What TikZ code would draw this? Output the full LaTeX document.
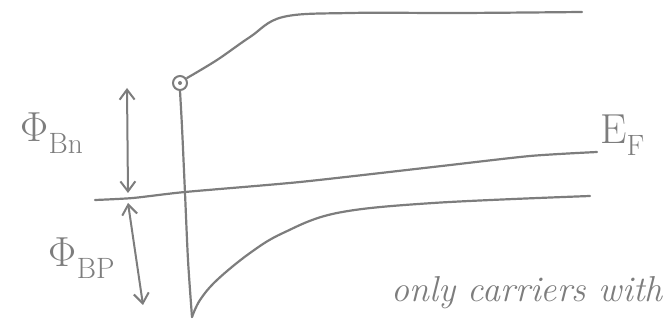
\documentclass[tikz,border=0pt]{standalone}
\usepackage{fontspec}
\usetikzlibrary{arrows.meta}
\definecolor{ink}{RGB}{125,125,125}
\begin{document}
\begin{tikzpicture}[x=1pt,y=-1pt,
  band/.style={draw=ink,line width=2.2pt,line cap=round,line join=round},
  dimarrow/.style={draw=ink,line width=2pt,{Straight Barb[length=10pt,width=15pt]}-{Straight Barb[length=10pt,width=15pt]}},
  lbl/.style={text=ink,inner sep=0pt,font=\fontsize{42}{42}\selectfont},
  note/.style={text=ink,inner sep=0pt,anchor=base east,font=\fontsize{36}{36}\selectfont\itshape}]
\useasboundingbox (0,0) rectangle (667,320);
% electron at the top of the barrier
\node[draw=ink,line width=2pt,circle,minimum size=14pt,inner sep=0pt] (e) at (180,83) {};
\fill[ink] (e.center) circle (2pt);
% named points
\coordinate (cb0) at (187,78);
\coordinate (cb1) at (582,12);
\coordinate (vl0) at (180,91);
\coordinate (tip) at (192,317);
\coordinate (vb1) at (590,196);
\coordinate (ef0) at (95,200);
\coordinate (ef1) at (597,152);
\coordinate (n1) at (127,88);
\coordinate (n2) at (128,193);
\coordinate (p1) at (128,203);
\coordinate (p2) at (143,305);
% conduction band
\draw[band] plot[smooth,tension=0.6] coordinates {(cb0) (217,60) (250,37) (283,17) (350,13) (460,13) (cb1)};
% interface (vertical line)
\draw[band] plot[smooth] coordinates {(vl0) (182,127) (185,193) (188,260) (tip)};
% valence band
\draw[band] plot[smooth,tension=0.6] coordinates {(tip) (200,300) (217,280) (250,253) (283,233) (337,213) (433,203) (vb1)};
% Fermi level
\draw[band] plot[smooth,tension=0.4] coordinates {(ef0) (133,198) (185,192) (300,182) (433,167) (530,156) (ef1)};
% barrier heights
\draw[dimarrow] (n2) -- (n1);
\draw[dimarrow] (p1) -- (p2);
% labels
\node[lbl] (phin) at (52,133) {Φ\textsubscript{Bn}};
\node[lbl] (phip) at (82,258) {Φ\textsubscript{BP}};
\node[lbl,anchor=west] (ef) at (600,135) {E\textsubscript{F}};
\node[note] (txt) at (663,302) {only carriers with};
\end{tikzpicture}
\end{document}
